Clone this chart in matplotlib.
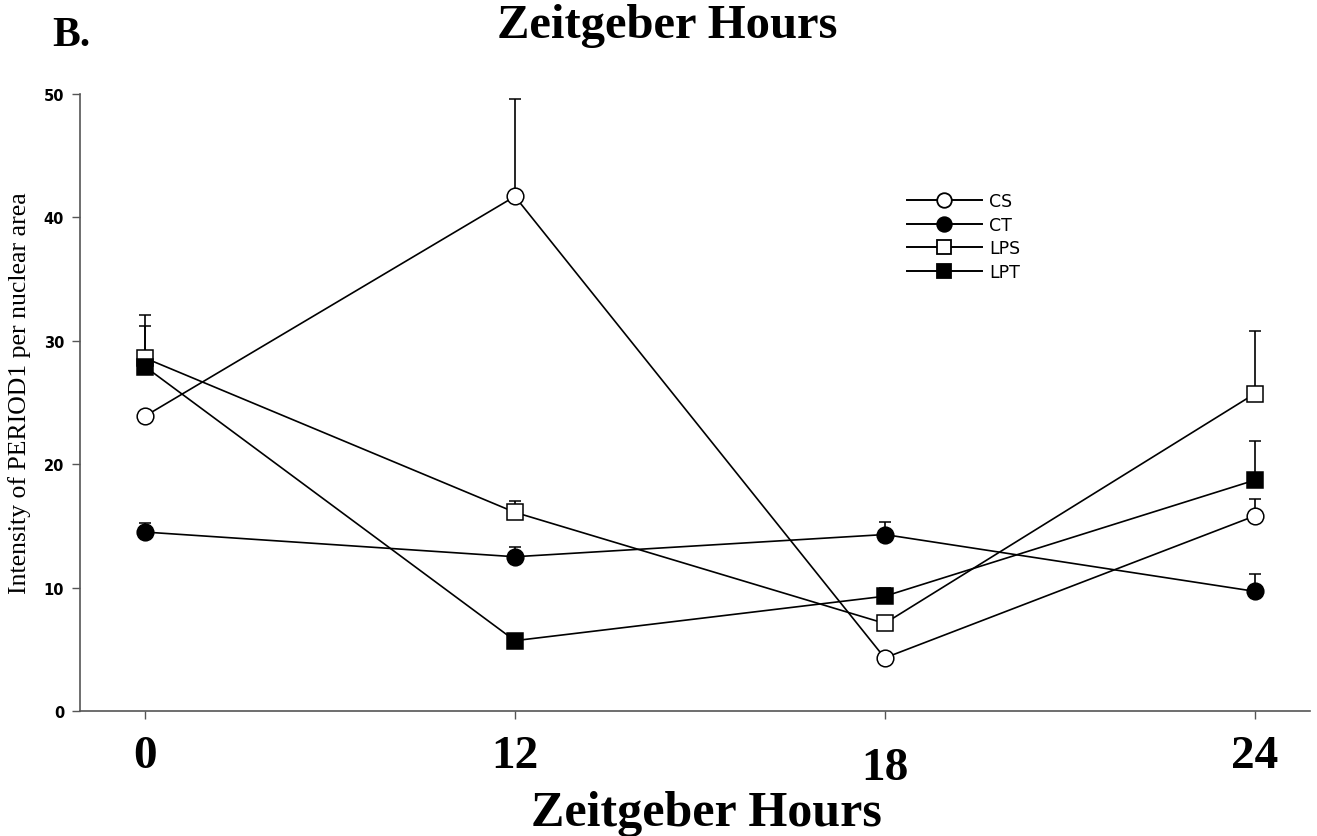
import numpy as np
import matplotlib
matplotlib.use('Agg')
from matplotlib import pyplot as plt
from matplotlib import transforms
from matplotlib.lines import Line2D

# data
hours = ['0', '12', '18', '24']
cs = [23.9, 41.7, 4.3, 15.8]
cs_err = [0.0, 7.9, 0.0, 1.4]
ct = [14.5, 12.5, 14.3, 9.7]
ct_err = [0.7, 0.8, 1.0, 1.4]
lps = [28.6, 16.1, 7.1, 25.7]
lps_err = [3.5, 0.9, 0.0, 5.1]
lpt = [27.9, 5.7, 9.3, 18.7]
lpt_err = [3.3, 0.0, 0.7, 3.2]

serif = 'Liberation Serif'

fig = plt.figure(figsize=(13.17, 8.37), dpi=100)
ax = fig.add_axes([80 / 1317, 1 - 712 / 837, 1230 / 1317, (712 - 95) / 837])

x = np.arange(len(hours))
series = [
    ('CS', cs, cs_err, 'o', 'white'),
    ('CT', ct, ct_err, 'o', 'black'),
    ('LPS', lps, lps_err, 's', 'white'),
    ('LPT', lpt, lpt_err, 's', 'black'),
]
handles = []
for name, vals, err, mk, fc in series:
    vals = np.array(vals)
    err = np.array(err)
    ax.errorbar(x, vals, yerr=[np.zeros_like(err), err], color='black',
                lw=1.2, marker=mk, ms=12, mfc=fc, mec='black', mew=1.1,
                capsize=4.5, capthick=1.2, elinewidth=1.2)
    handles.append(Line2D([], [], color='black', lw=1.4, marker=mk, ms=10.5,
                          mfc=fc, mec='black', mew=1.3, label=name))

ax.set_xlim(-0.176, 3.15)
ax.set_ylim(0, 50)
ax.set_xticks(x)
ax.set_xticklabels(hours, fontfamily=serif, fontweight='bold', fontsize=34)
ax.set_yticks([0, 10, 20, 30, 40, 50])
ax.set_yticklabels(['0', '10', '20', '30', '40', '50'], fontweight='bold', fontsize=10.5)
ax.tick_params(axis='both', direction='out', length=5.5, width=1, color='#555555')
ax.tick_params(axis='x', pad=12)
ax.tick_params(axis='y', pad=6)

# 18 sits a bit lower in the reference
lab18 = ax.get_xticklabels()[2]
lab18.set_transform(lab18.get_transform() +
                    transforms.ScaledTranslation(0, -12 / 100, fig.dpi_scale_trans))

for s in ['top', 'right']:
    ax.spines[s].set_visible(False)
for s in ['left', 'bottom']:
    ax.spines[s].set_color('#555555')
    ax.spines[s].set_linewidth(1.2)

fig.text(20 / 1317, 1 - 393 / 837, 'Intensity of PERIOD1 per nuclear area',
         fontfamily=serif, fontsize=18.5, rotation=90, ha='center', va='center')
ax.set_xlabel('Zeitgeber Hours', fontfamily=serif, fontweight='bold', fontsize=36)
ax.xaxis.set_label_coords(0.509, -0.128)

fig.text(667 / 1317, 1 - 38 / 837, 'Zeitgeber Hours', fontfamily=serif,
         fontweight='bold', fontsize=35, ha='center', va='baseline')
fig.text(52 / 1317, 1 - 36 / 837, 'B.', fontfamily=serif,
         fontweight='bold', fontsize=30, ha='left', va='center')

ax.legend(handles=handles, loc='upper left',
          bbox_to_anchor=(827 / 1230, (712 - 193) / 617),
          frameon=False, fontsize=12.5, handlelength=4.3,
          labelspacing=0.33, handletextpad=0.45, borderaxespad=0, borderpad=0)

fig.savefig('out.png', dpi=100)
